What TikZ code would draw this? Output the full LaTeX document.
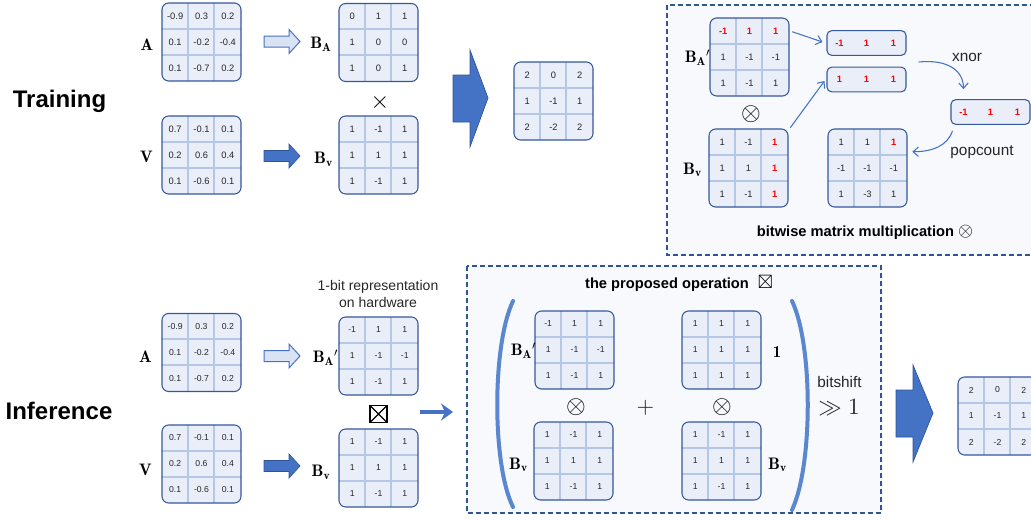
\documentclass[tikz,border=0pt]{standalone}
\usepackage{fix-cm}
\usepackage{amssymb}
\usepackage{fontspec}
\newfontfamily\arial{Liberation Sans}
\usetikzlibrary{calc,arrows.meta}

\definecolor{matfill}{HTML}{E9EEF8}
\definecolor{matedge}{HTML}{34589C}
\definecolor{matgrid}{HTML}{B4C7E7}
\definecolor{arrblue}{HTML}{4472C4}
\definecolor{arrdark}{HTML}{2F5597}
\definecolor{hollowfill}{HTML}{DAE3F3}
\definecolor{boxedge}{HTML}{2F5597}
\definecolor{boxfill}{HTML}{F7F9FD}
\definecolor{parenblue}{HTML}{5B87D0}
\definecolor{numgray}{HTML}{262626}
\definecolor{bitred}{HTML}{FF0000}

\tikzset{
  matbox/.style={fill=matfill, rounded corners=5pt, minimum width=59.25pt,
    minimum height=58.5pt, inner sep=0pt},
  matframe/.style={draw=matedge, line width=0.8pt, rounded corners=5pt,
    minimum width=59.25pt, minimum height=58.5pt, inner sep=0pt},
  gridline/.style={draw=matgrid, line width=1.4pt},
  cell/.style={font=\arial\fontsize{7}{8}\selectfont, text=numgray, inner sep=0pt},
  smallcell/.style={font=\arial\fontsize{6.5}{8}\selectfont, text=numgray, inner sep=0pt},
  rowbox/.style={draw=matedge, fill=matfill, line width=0.8pt, rounded corners=3.5pt,
    minimum width=59.25pt, minimum height=18.5pt, inner sep=0pt},
  lbl/.style={font=\fontsize{12.5}{14}\selectfont, inner sep=0pt},
  opsym/.style={font=\fontsize{10}{10}\selectfont, inner sep=0pt},
  heading/.style={font=\arial\bfseries\fontsize{18}{20}\selectfont, inner sep=0pt},
  caption/.style={font=\arial\fontsize{11.5}{13}\selectfont, text=numgray, inner sep=0pt},
  boldcaption/.style={font=\arial\bfseries\fontsize{11}{13}\selectfont, inner sep=0pt},
  panel/.style={draw=boxedge, fill=boxfill, line width=0.8pt, dash pattern=on 3.5pt off 2.5pt},
  hollow/.style={fill=hollowfill, draw=arrblue, line width=0.75pt},
  solid blue/.style={fill=arrblue, draw=arrdark, line width=0.5pt},
  thinarrow/.style={draw=arrblue, line width=0.8pt, -{Straight Barb[length=4pt,width=7pt]}},
  paren/.style={draw=parenblue, line width=3pt, line cap=round},
  crossbox/.style={draw, line width=1.1pt, minimum size=13pt, inner sep=0pt,
    path picture={\draw[line width=0.9pt] (path picture bounding box.south west) --
      (path picture bounding box.north east) (path picture bounding box.north west) --
      (path picture bounding box.south east);}},
}

% red entry of the xnor rows
\newcommand{\R}[1]{\textcolor{bitred}{\bfseries #1}}
% operator glyph inside the bold titles
\newcommand{\titleop}[1]{\scalebox{1.45}{\fontsize{10}{10}\selectfont$#1$}}
% enlarged operator glyph
\newcommand{\bigop}[2]{\scalebox{#1}{$#2$}}

% 3x3 matrix: [cell style]{name}{centre}{nine entries}
\newcommand{\gmat}[4][cell]{%
  \node[matbox] (#2) at (#3) {};
  \draw[gridline] ($(#2.north west)+(26.33,0)$) -- ($(#2.south west)+(26.33,0)$);
  \draw[gridline] ($(#2.north west)+(52.67,0)$) -- ($(#2.south west)+(52.67,0)$);
  \draw[gridline] ($(#2.north west)+(0,26)$) -- ($(#2.north east)+(0,26)$);
  \draw[gridline] ($(#2.north west)+(0,52)$) -- ($(#2.north east)+(0,52)$);
  \node[matframe] at (#3) {};
  \foreach \v [count=\k from 0] in {#4} {
    \pgfmathtruncatemacro\mrow{\k/3}
    \pgfmathtruncatemacro\mcol{\k-3*\mrow}
    \node[#1] at ($(#2)+(\mcol*26.33-26.33,\mrow*26-26)$) {\v};
  }%
}

% one-row vector: {name}{centre}{three entries}
\newcommand{\rvec}[3]{%
  \node[rowbox] (#1) at (#2) {};
  \foreach \v [count=\k from -1] in {#3} {
    \node[cell] at ($(#1)+(\k*27,0)$) {\v};
  }%
}

% small block arrow: {style}{left x}{centre y}
\newcommand{\flatarrow}[3]{%
  \draw[#1] (#2,#3-5.5) -- ++(25,0) -- ++(0,-6.5) -- ++(11,12) -- ++(-11,12)
    -- ++(0,-6.5) -- ++(-25,0) -- cycle;%
}

\begin{document}
\begin{tikzpicture}[x=0.75pt,y=-0.75pt]
\path[use as bounding box, clip] (0,0) rectangle (1031,521);

% ---------- background panels ----------
\draw[panel] (667,5) rectangle (1045,255);
\draw[panel] (467,266) rectangle (881,513);

% ================= Training =================
\node[heading] (trn) at (59.5,101) {Training};

\gmat{tA}{201.5,42}{-0.9,0.3,0.2,0.1,-0.2,-0.4,0.1,-0.7,0.2}
\node[lbl] (tAlab) at (147,44.5) {$\mathbf{A}$};
\gmat{tV}{201.5,155}{0.7,-0.1,0.1,0.2,0.6,0.4,0.1,-0.6,0.1}
\node[lbl] (tVlab) at (146.5,157) {$\mathbf{V}$};

\flatarrow{hollow}{264}{41.5}
\flatarrow{solid blue}{264}{156}

\gmat{tBA}{378.5,42.5}{0,1,1,1,0,0,1,0,1}
\node[lbl] (tBAlab) at (321,44.5) {$\mathbf{B}_{\mathbf{A}}$};
\gmat{tBV}{378.5,155}{1,-1,1,1,1,1,1,-1,1}
\node[lbl] (tBVlab) at (323.5,159.5) {$\mathbf{B}_{\mathbf{v}}$};
\node[opsym] (tx) at (380,102) {\bigop{1.8}{\times}};

\draw[solid blue] (453,75) -- (470,75) -- (470,50) -- (488,98) -- (470,147)
  -- (470,122) -- (453,122) -- cycle;

\gmat{tRes}{553.5,101}{2,0,2,1,-1,1,2,-2,2}

% ---------- bitwise matrix multiplication ----------
\gmat{bA}{749.5,57}{\R{-1},\R{1},\R{1},1,-1,-1,1,-1,1}
\node[lbl] (bAlab) at (697.5,57.5) {$\mathbf{B}_{\mathbf{A}}{}'$};
\node[opsym] (botimes) at (751,114) {\bigop{1.9}{\otimes}};
\gmat{bV}{748.5,168}{1,-1,\R{1},1,1,\R{1},1,-1,\R{1}}
\node[lbl] (bVlab) at (692.5,170) {$\mathbf{B}_{\mathbf{v}}$};

\rvec{r1}{866.5,43}{\R{-1},\R{1},\R{1}}
\rvec{r2}{866.5,79.5}{\R{1},\R{1},\R{1}}
\rvec{rr}{990.5,112}{\R{-1},\R{1},\R{1}}
\gmat{rm}{867.5,168}{1,1,\R{1},-1,-1,-1,1,-3,1}

\draw[thinarrow] ($(bA.north east)+(3,14)$) -- ($(r1.west)+(-4,-1)$);
\draw[thinarrow] ($(bV.north east)+(2,-1)$) -- ($(r2.west)+(-2,1.5)$);
\draw[thinarrow] ($(r1.east)+(12,19)$) .. controls +(30,-3) and +(0,-18) .. ($(rr.north west)+(13,-10)$);
\draw[thinarrow] ($(rr.south west)+(2,6)$) .. controls +(-5,15) and +(20,0) .. ($(rm.north east)+(5,23)$);

\node[caption] (xnorlab) at (967,57) {xnor};
\node[caption] (poplab) at (982,152) {popcount};
\node[boldcaption] (bwtitle) at (865,232) {bitwise matrix multiplication \titleop{\otimes}};

% ================= Inference =================
\node[heading] (inf) at (59,411) {Inference};

\gmat[smallcell]{iA}{201.5,352.5}{-0.9,0.3,0.2,0.1,-0.2,-0.4,0.1,-0.7,0.2}
\node[lbl] (iAlab) at (145.5,357) {$\mathbf{A}$};
\gmat[smallcell]{iV}{201.5,464}{0.7,-0.1,0.1,0.2,0.6,0.4,0.1,-0.6,0.1}
\node[lbl] (iVlab) at (145.5,470) {$\mathbf{V}$};

\flatarrow{hollow}{264}{356}
\flatarrow{solid blue}{264}{466}

\node[font=\arial\fontsize{10.5}{12.75}\selectfont, text=numgray, align=center, inner sep=0pt]
  (hw) at (378,293.5) {1-bit representation\\on hardware};
\gmat[smallcell]{iBA}{378.5,356}{-1,1,1,1,-1,-1,1,-1,1}
\node[lbl] (iBAlab) at (325.5,357.5) {$\mathbf{B}_{\mathbf{A}}{}'$};
\node[crossbox] (ibox) at (378.5,414) {};
\gmat[smallcell]{iBV}{378.5,468}{1,-1,1,1,1,1,1,-1,1}
\node[lbl] (iBVlab) at (321,472.5) {$\mathbf{B}_{\mathbf{v}}$};

\coordinate (sa) at (420,412);
\coordinate (sb) at (453,412);
\draw[draw=arrblue, line width=3pt, -{Stealth[length=9pt,width=13pt,inset=3pt]}] (sa) -- (sb);

% ---------- the proposed operation ----------
\node[boldcaption] (ptitle) at (679,283) {the proposed operation\,\, \titleop{\boxtimes}};
\draw[paren] (513,301) .. controls (492,345) and (492,465) .. (513,507);
\draw[paren] (792,301) .. controls (813,345) and (813,465) .. (792,510);

\gmat[smallcell]{pBA}{574.5,350}{-1,1,1,1,-1,-1,1,-1,1}
\node[lbl] (pBAlab) at (523.5,350.5) {$\mathbf{B}_{\mathbf{A}}{}'$};
\node[opsym] (pot1) at (576,407) {\bigop{1.9}{\otimes}};
\gmat[smallcell]{pBV}{573.5,461}{1,-1,1,1,1,1,1,-1,1}
\node[lbl] (pBVlab) at (518.5,465) {$\mathbf{B}_{\mathbf{v}}$};

\node[opsym, text=numgray] (plus) at (645.5,408) {\bigop{1.7}{+}};

\gmat[smallcell]{pOne}{721.5,350}{1,1,1,1,1,1,1,1,1}
\node[lbl] (pOnelab) at (777,352) {$\mathbf{1}$};
\node[opsym] (pot2) at (722,407) {\bigop{1.9}{\otimes}};
\gmat[smallcell]{pBV2}{721.5,461}{1,-1,1,1,1,1,1,-1,1}
\node[lbl] (pBV2lab) at (777.5,465) {$\mathbf{B}_{\mathbf{v}}$};

\node[caption] (bshift) at (839.5,382) {bitshift};
\node[opsym, text=numgray] (gg) at (839,407) {\bigop{1.75}{\gg 1}};

\draw[solid blue] (896,390) -- (913,390) -- (913,365) -- (933,413) -- (913,462)
  -- (913,437) -- (896,437) -- cycle;

\gmat[smallcell]{iRes}{997.5,416}{2,0,2,1,-1,1,2,-2,2}
\end{tikzpicture}
\end{document}
